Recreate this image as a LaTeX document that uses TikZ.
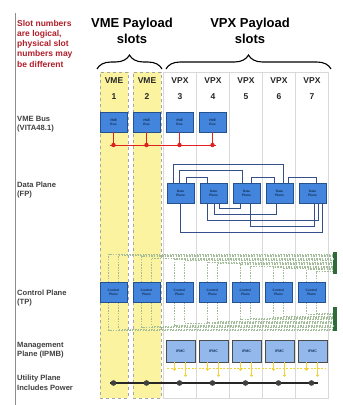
\documentclass[tikz,border=0pt]{standalone}
\usepackage{fontspec}
\setmainfont{Liberation Sans}
\usetikzlibrary{decorations.pathreplacing,calc}
\definecolor{boxblue}{HTML}{4385DC}
\definecolor{boxedge}{HTML}{23528F}
\definecolor{ipmcfill}{HTML}{93B9EC}
\definecolor{vmeyellow}{HTML}{FBF3A0}
\definecolor{busred}{HTML}{E02020}
\definecolor{dpline}{HTML}{34508A}
\definecolor{cpdash}{HTML}{A3BC99}
\definecolor{swgreen}{HTML}{2F6B3A}
\definecolor{pinyellow}{HTML}{F0D23A}
\definecolor{slotred}{HTML}{B01E2A}
\begin{document}
\begin{tikzpicture}[x=1pt,y=-1pt,
  cardbox/.style={draw=boxedge, line width=0.8pt, fill=boxblue, minimum width=27pt, minimum height=20pt, inner sep=0pt, align=center, font=\fontsize{3.3}{3.8}\selectfont\bfseries, text=boxedge!60!black},
  ipmcbox/.style={draw=black!70, line width=0.8pt, fill=ipmcfill, minimum width=29pt, minimum height=22pt, inner sep=0pt, font=\fontsize{3.6}{4}\selectfont\bfseries, text=boxedge!70!black},
  yellowcol/.style={draw=black!35, dashed, line width=0.5pt, fill=vmeyellow, minimum width=28pt, minimum height=326pt, inner sep=0pt},
  vpxcol/.style={draw=black!15, line width=0.5pt, fill=white, minimum width=33pt, minimum height=326pt, inner sep=0pt},
  hdr/.style={font=\fontsize{8.5}{10}\selectfont\bfseries, text=black!85, inner sep=0pt},
  title/.style={font=\fontsize{13}{16}\selectfont\bfseries, align=center, inner sep=0pt},
  rowlabel/.style={font=\fontsize{7.6}{9.5}\selectfont\bfseries, text=black!75, align=left, anchor=west, inner sep=0pt},
  dpl/.style={draw=dpline, line width=1.1pt},
  cpd/.style={draw=cpdash, line width=0.4pt, dash pattern=on 1.5pt off 1.2pt},
  swbar/.style={fill=swgreen, minimum width=4pt, inner sep=0pt},
  pinline/.style={draw=pinyellow, line width=0.8pt},
  busline/.style={draw=busred, line width=1pt}
]
\useasboundingbox (0,0) rectangle (343,405);
\fill[white] (0,0) rectangle (343,405);

% left border
\coordinate (lbtop) at (15,13);
\coordinate (lbbot) at (15,405);
\draw[black!45, line width=0.8pt] (lbtop) -- (lbbot);

% note
\node[anchor=north west, align=left, inner sep=0pt, text=slotred,
      font=\fontsize{8.5}{10.2}\selectfont\bfseries] (note) at (17,20)
  {Slot numbers\\are logical,\\physical slot\\numbers may\\be different};

% titles
\node[title] (tvme) at (132,31) {VME Payload\\slots};
\node[title] (tvpx) at (250,31) {VPX Payload\\slots};

% braces
\coordinate (bva) at (97,69);
\coordinate (bvb) at (162,69);
\coordinate (bxa) at (166,69);
\coordinate (bxb) at (331,69);
\draw[line width=1.1pt, decorate, decoration={brace, amplitude=14pt}] (bva) -- (bvb);
\draw[line width=1.1pt, decorate, decoration={brace, amplitude=14pt}] (bxa) -- (bxb);

% columns
\node[yellowcol] (col1) at (114,235) {};
\node[yellowcol] (col2) at (147,235) {};
\foreach \i in {3,...,7}{
  \node[vpxcol] (col\i) at ({81+33*\i},235) {};
}
% headers
\node[hdr] (h1) at (114,81) {VME};
\node[hdr] (n1) at (114,97) {1};
\node[hdr] (h2) at (147,81) {VME};
\node[hdr] (n2) at (147,97) {2};
\foreach \i in {3,...,7}{
  \node[hdr] (h\i) at ({81+33*\i},81) {VPX};
  \node[hdr] (n\i) at ({81+33*\i},97) {\i};
}

% row labels
\node[rowlabel] (lvme) at (17,124) {VME Bus\\(VITA48.1)};
\node[rowlabel] (ldp) at (17,190) {Data Plane\\(FP)};
\node[rowlabel] (lcp) at (17,298) {Control Plane\\(TP)};
\node[rowlabel] (lmp) at (17,350) {Management\\Plane (IPMB)};
\node[rowlabel] (lup) at (17,383) {Utility Plane\\Includes Power};

% VME bus
\foreach \i in {1,...,4}{
  \node[cardbox] (vb\i) at ({80.5+33*\i},122) {VME\\Bus};
  \coordinate (rb\i) at ({80.5+33*\i},145);
  \draw[busline] (vb\i.south) -- (rb\i);
}
\coordinate (rbl) at (110,145);
\coordinate (rbr) at (216,145);
\draw[busline] (rbl) -- (rbr);
\foreach \i in {1,...,4}{ \fill[busred] (rb\i) circle (2.2); }

% data plane
\foreach \i in {3,...,7}{
  \node[cardbox] (dp\i) at ({81.5+33*\i},193) {Data\\Plane};
}
\draw[dpl] ([xshift=-7pt]dp3.north) -- ++(0,-18) -| ([xshift=4pt]dp6.north);
\draw[dpl] ([xshift=-1pt]dp3.north) -- ++(0,-12) -| ([xshift=-4pt]dp5.north);
\draw[dpl] ([xshift=6pt]dp3.north) -- ++(0,-5) -| ([xshift=-6pt]dp4.north);
\draw[dpl] ([xshift=5pt]dp5.north) -- ++(0,-5) -| ([xshift=-5pt]dp6.north);
\draw[dpl] ([xshift=9pt]dp6.north) -- ++(0,-5) -| ([xshift=4pt]dp7.north);
\draw[dpl] ([xshift=6pt]dp4.south) -- ++(0,5) -| ([xshift=-6pt]dp5.south);
\draw[dpl] ([xshift=1pt]dp4.south) -- ++(0,11) -| ([xshift=-3pt]dp6.south);
\draw[dpl] ([xshift=-6pt]dp4.south) -- ++(0,17) -| ([xshift=6pt]dp7.south);
\draw[dpl] ([xshift=4pt]dp5.south) -- ++(0,23) -| ([xshift=2pt]dp7.south);
\draw[dpl] (dp3.south) -- ++(0,29) -| ([xshift=10pt]dp7.south);

% control plane
\node[swbar, minimum height=22pt] (swa) at (335,263) {};
\node[swbar, minimum height=24pt] (swb) at (335,319) {};
\foreach \i in {1,...,7}{
  \pgfmathsetmacro{\ya}{254+1.3*(2*\i-2)}
  \pgfmathsetmacro{\yb}{254+1.3*(2*\i-1)}
  \pgfmathsetmacro{\yc}{330-1.3*(2*\i-2)}
  \pgfmathsetmacro{\yd}{330-1.3*(2*\i-1)}
  \coordinate (cpt\i a) at ({75.5+33*\i},282);
  \coordinate (cpt\i b) at ({85.5+33*\i},282);
  \coordinate (cpb\i a) at ({75.5+33*\i},302);
  \coordinate (cpb\i b) at ({85.5+33*\i},302);
  \draw[cpd] (cpt\i a) |- (swa.west |- 0,\ya);
  \draw[cpd] (cpt\i b) |- (swa.west |- 0,\yb);
  \draw[cpd] (cpb\i a) |- (swb.west |- 0,\yc);
  \draw[cpd] (cpb\i b) |- (swb.west |- 0,\yd);
}
\foreach \i in {1,...,7}{
  \node[cardbox] (cp\i) at ({80.5+33*\i},292) {Control\\Plane};
}

% management plane
\coordinate (pyl) at (167,368);
\coordinate (pyr) at (325,368);
\draw[pinline, dash pattern=on 2pt off 1.5pt, line width=0.6pt] (pyl) -- (pyr);
\foreach \i in {3,...,7}{
  \node[ipmcbox] (ip\i) at ({81.5+33*\i},351) {IPMC};
  \draw[pinline] ([xshift=-6pt]ip\i.south) -- ++(0,7) coordinate (pa\i);
  \draw[pinline] ([xshift=5pt]ip\i.south) -- ++(0,13) coordinate (pb\i);
  \fill[pinyellow] (pa\i) circle (1.5);
  \fill[pinyellow] (pb\i) circle (1.5);
}

% utility plane
\foreach \i in {1,...,7}{ \coordinate (up\i) at ({80.5+33*\i},383); }
\coordinate (upl) at (110,383);
\coordinate (upr) at (318,383);
\draw[black!85, line width=2.4pt] (upl) -- (upr);
\foreach \i in {1,...,7}{ \fill[black!75] (up\i) circle (2.8); }
\end{tikzpicture}
\end{document}
